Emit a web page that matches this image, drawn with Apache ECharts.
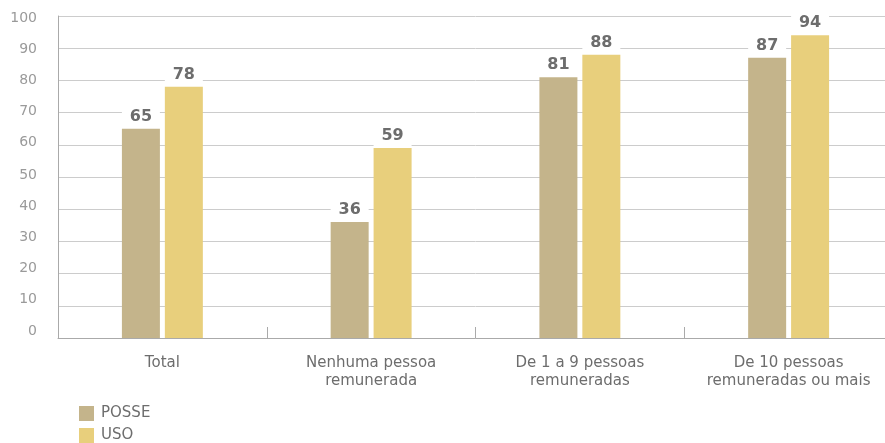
<!DOCTYPE html>
<html><head><meta charset="utf-8">
<script src="https://cdn.jsdelivr.net/npm/echarts@6/dist/echarts.min.js"></script>
<style>html,body{margin:0;padding:0;background:#fff;overflow:hidden}#c{width:893px;height:443px}</style>
</head><body><div id="c"></div>
<script>
const categories = ['Total', 'Nenhuma pessoa\nremunerada', 'De 1 a 9 pessoas\nremuneradas', 'De 10 pessoas\nremuneradas ou mais'];
const posse = [65, 36, 81, 87];
const uso = [78, 59, 88, 94];
const yTicks = [0, 10, 20, 30, 40, 50, 60, 70, 80, 90, 100];

const font = 'DejaVu Sans';
const labelCfg = {
  show: true, position: 'top', distance: 2,
  color: '#6d6d6d', fontWeight: 'bold', fontSize: 16, fontFamily: font,
  backgroundColor: '#fff', width: 38, align: 'center', lineHeight: 16, padding: [2, 0, 2, 0]
};
// small per-label vertical offsets of the y tick labels as seen in the reference
const rich = {};
yTicks.forEach(v => {
  const shift = Math.round(-7 + 0.09 * v);
  const pad = shift >= 0 ? [2 * shift, 0, 0, 0] : [0, 0, -2 * shift, 0];
  rich['v' + v] = {color: '#9a9a9a', fontSize: 14, fontFamily: font, padding: pad};
});
const chart = echarts.init(document.getElementById('c'), null, {renderer: 'canvas'});
chart.setOption({
  animation: false,
  textStyle: {fontFamily: font},
  grid: {left: 58, right: 0, top: 16, bottom: 105, containLabel: false},
  legend: {
    orient: 'vertical', left: 79, top: 406, padding: 0, itemWidth: 15, itemHeight: 15, itemGap: 7,
    icon: 'rect', textStyle: {color: '#6d6d6d', fontSize: 15, fontFamily: font, padding: [0, 0, 0, 2]},
    data: ['POSSE', 'USO']
  },
  xAxis: {
    type: 'category', data: categories,
    axisLine: {lineStyle: {color: '#aaaaaa', width: 1}},
    axisTick: {show: true, inside: true, length: 11, interval: 0, lineStyle: {color: '#aaaaaa'}},
    axisLabel: {color: '#6d6d6d', fontSize: 15, fontFamily: font, margin: 16, lineHeight: 18, interval: 0}
  },
  yAxis: {
    type: 'value', min: 0, max: 100, interval: 10,
    axisLine: {show: true, lineStyle: {color: '#aaaaaa', width: 1}},
    axisTick: {show: false},
    splitLine: {lineStyle: {color: '#cccccc', width: 1}},
    axisLabel: {color: '#9a9a9a', fontSize: 14, fontFamily: font, margin: 21, rich: rich,
      formatter: v => yTicks.includes(v) ? '{v' + v + '|' + v + '}' : ''}
  },
  series: [
    {name: 'POSSE', type: 'bar', data: posse, barWidth: 38, barGap: '13%',
     itemStyle: {color: '#c4b48b'}, label: labelCfg},
    {name: 'USO', type: 'bar', data: uso, barWidth: 38,
     itemStyle: {color: '#e8cf7c'}, label: labelCfg}
  ]
});
</script></body></html>
